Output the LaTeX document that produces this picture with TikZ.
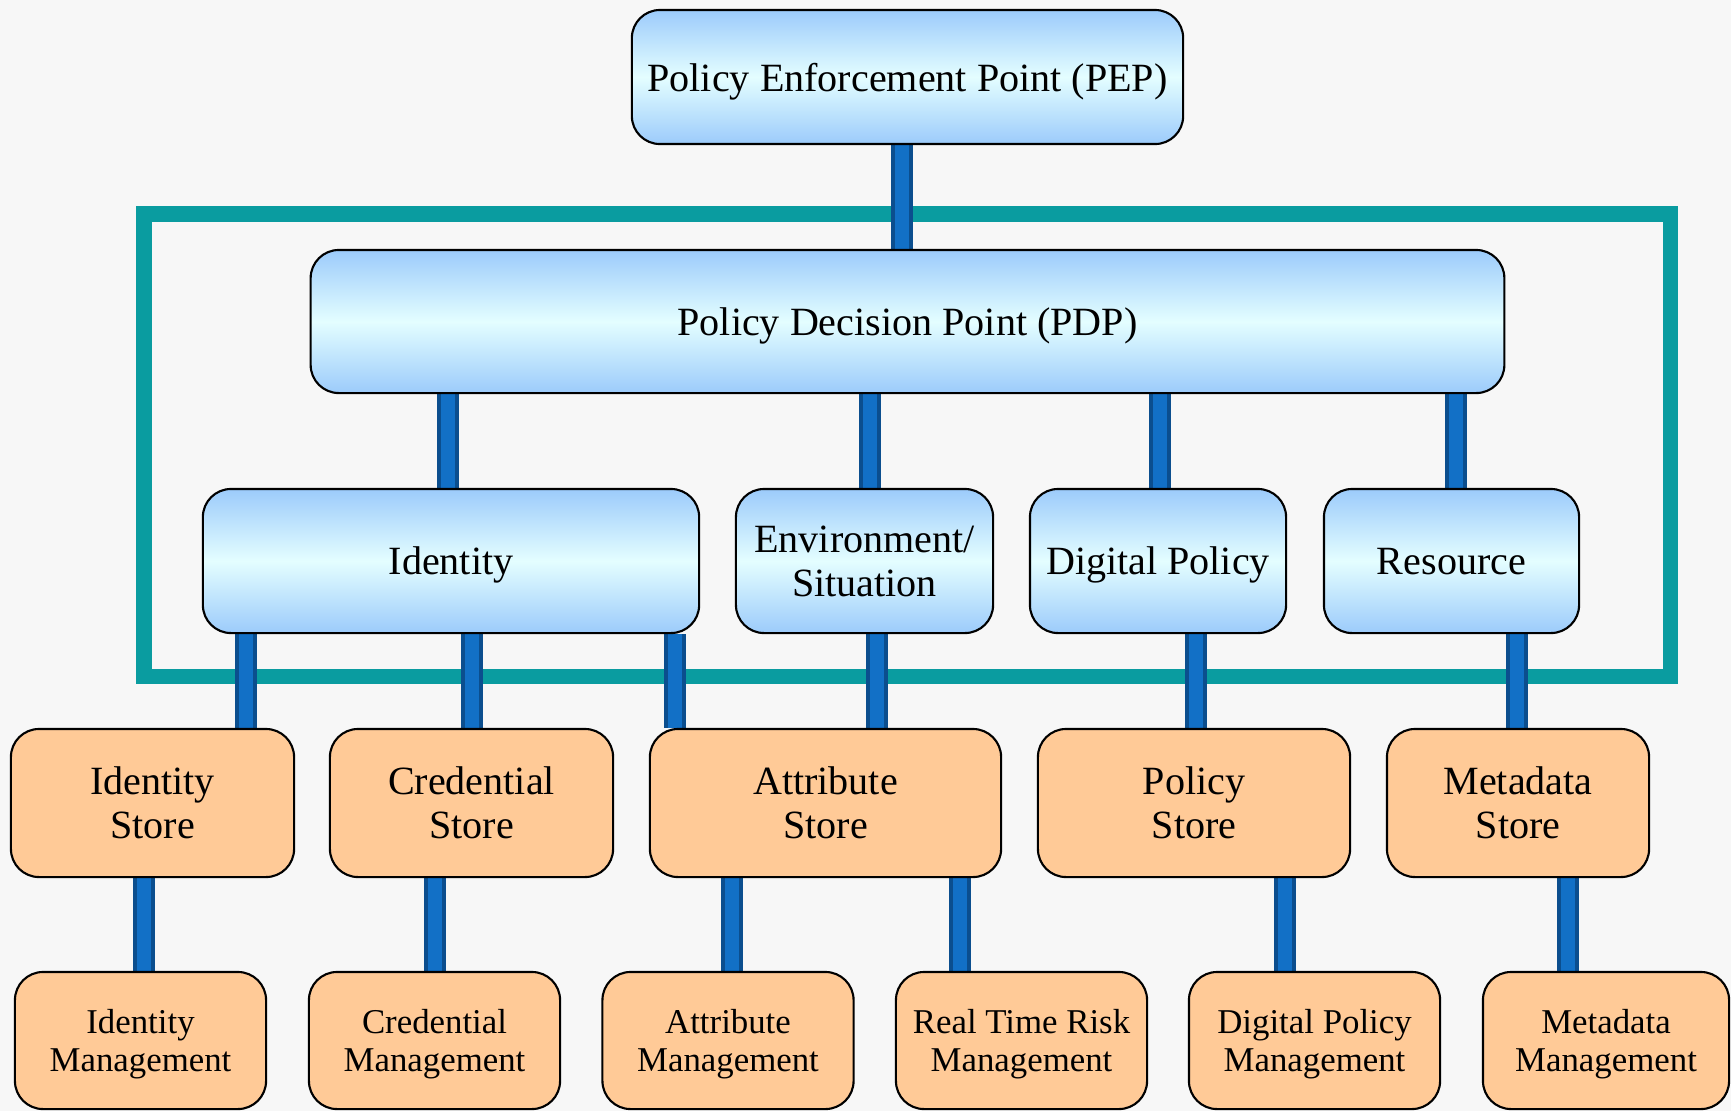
\documentclass[tikz,border=0pt]{standalone}
\usepackage{fontspec}
\setmainfont{Liberation Serif}
\usetikzlibrary{backgrounds}

\definecolor{skyblue}{HTML}{9CCBFB}
\definecolor{paleblue}{HTML}{E4FEFF}
\definecolor{peach}{HTML}{FFCA97}
\definecolor{framecol}{HTML}{0A9CA0}
\definecolor{bardark}{HTML}{0B4E8E}
\definecolor{barlight}{HTML}{1270C6}
\definecolor{paper}{HTML}{F7F7F7}

\tikzset{
  box/.style={draw=black, line width=0.6pt, rounded corners=8pt, align=center,
    inner sep=0pt, text depth=0pt, font=\fontsize{11.4}{12.5}\selectfont},
  bluebox/.style={box, top color=skyblue, bottom color=skyblue, middle color=paleblue},
  storebox/.style={box, fill=peach, minimum height=14.8mm},
  mgmtbox/.style={box, fill=peach, minimum width=25.1mm, minimum height=13.7mm,
    font=\fontsize{9.9}{10.7}\selectfont},
  barout/.style={draw=bardark, line width=6.3pt},
  barin/.style={draw=barlight, line width=4pt},
}

\begin{document}
\begin{tikzpicture}[x=0.01cm, y=-0.01cm]

\useasboundingbox (0,0) rectangle (1731,1111);

\node[bluebox, minimum width=55.1mm, minimum height=13.4mm] (pep) at (907.5,77) {Policy Enforcement Point (PEP)};
\node[bluebox, minimum width=119.3mm, minimum height=14.3mm] (pdp) at (907.5,321.5) {Policy Decision Point (PDP)};

\node[bluebox, minimum width=49.6mm, minimum height=14.4mm] (idn) at (451,561) {Identity};
\node[bluebox, minimum width=25.7mm, minimum height=14.4mm] (env) at (864.5,561) {Environment/\\Situation};
\node[bluebox, minimum width=25.6mm, minimum height=14.4mm] (dig) at (1158,561) {Digital Policy};
\node[bluebox, minimum width=25.5mm, minimum height=14.4mm] (res) at (1451.5,561) {Resource};

\node[storebox, minimum width=28.3mm] (idstore) at (152.5,803) {Identity\\Store};
\node[storebox, minimum width=28.3mm] (credstore) at (471.5,803) {Credential\\Store};
\node[storebox, minimum width=35.1mm] (attrstore) at (825.5,803) {Attribute\\Store};
\node[storebox, minimum width=31.2mm] (polstore) at (1194,803) {Policy\\Store};
\node[storebox, minimum width=26.2mm] (metastore) at (1518,803) {Metadata\\Store};

\node[mgmtbox] (idmgmt) at (140.5,1040.5) {Identity\\Management};
\node[mgmtbox] (credmgmt) at (434.5,1040.5) {Credential\\Management};
\node[mgmtbox] (attrmgmt) at (728,1040.5) {Attribute\\Management};
\node[mgmtbox] (riskmgmt) at (1021.5,1040.5) {Real Time Risk\\Management};
\node[mgmtbox] (polmgmt) at (1314.5,1040.5) {Digital Policy\\Management};
\node[mgmtbox, minimum width=24.6mm] (metamgmt) at (1606,1040.5) {Metadata\\Management};

\begin{scope}[on background layer]
\fill[paper] (0,0) rectangle (1731,1111);
\draw[framecol, line width=4.3pt] (144,214) rectangle (1670.5,676.5);
\foreach \x/\a/\b in {902/pep/pdp, 448/pdp/idn, 870/pdp/env, 1160/pdp/dig, 1456/pdp/res,
    246/idn/idstore, 472/idn/credstore, 675/idn/attrstore, 877/env/attrstore,
    1196/dig/polstore, 1517/res/metastore,
    144/idstore/idmgmt, 435/credstore/credmgmt, 732/attrstore/attrmgmt,
    960/attrstore/riskmgmt, 1285/polstore/polmgmt, 1568/metastore/metamgmt}
{
  \draw[barout] (\x,0 |- \a.south) -- (\x,0 |- \b.north);
  \draw[barin] (\x,0 |- \a.south) -- (\x,0 |- \b.north);
}
\end{scope}

\end{tikzpicture}
\end{document}
